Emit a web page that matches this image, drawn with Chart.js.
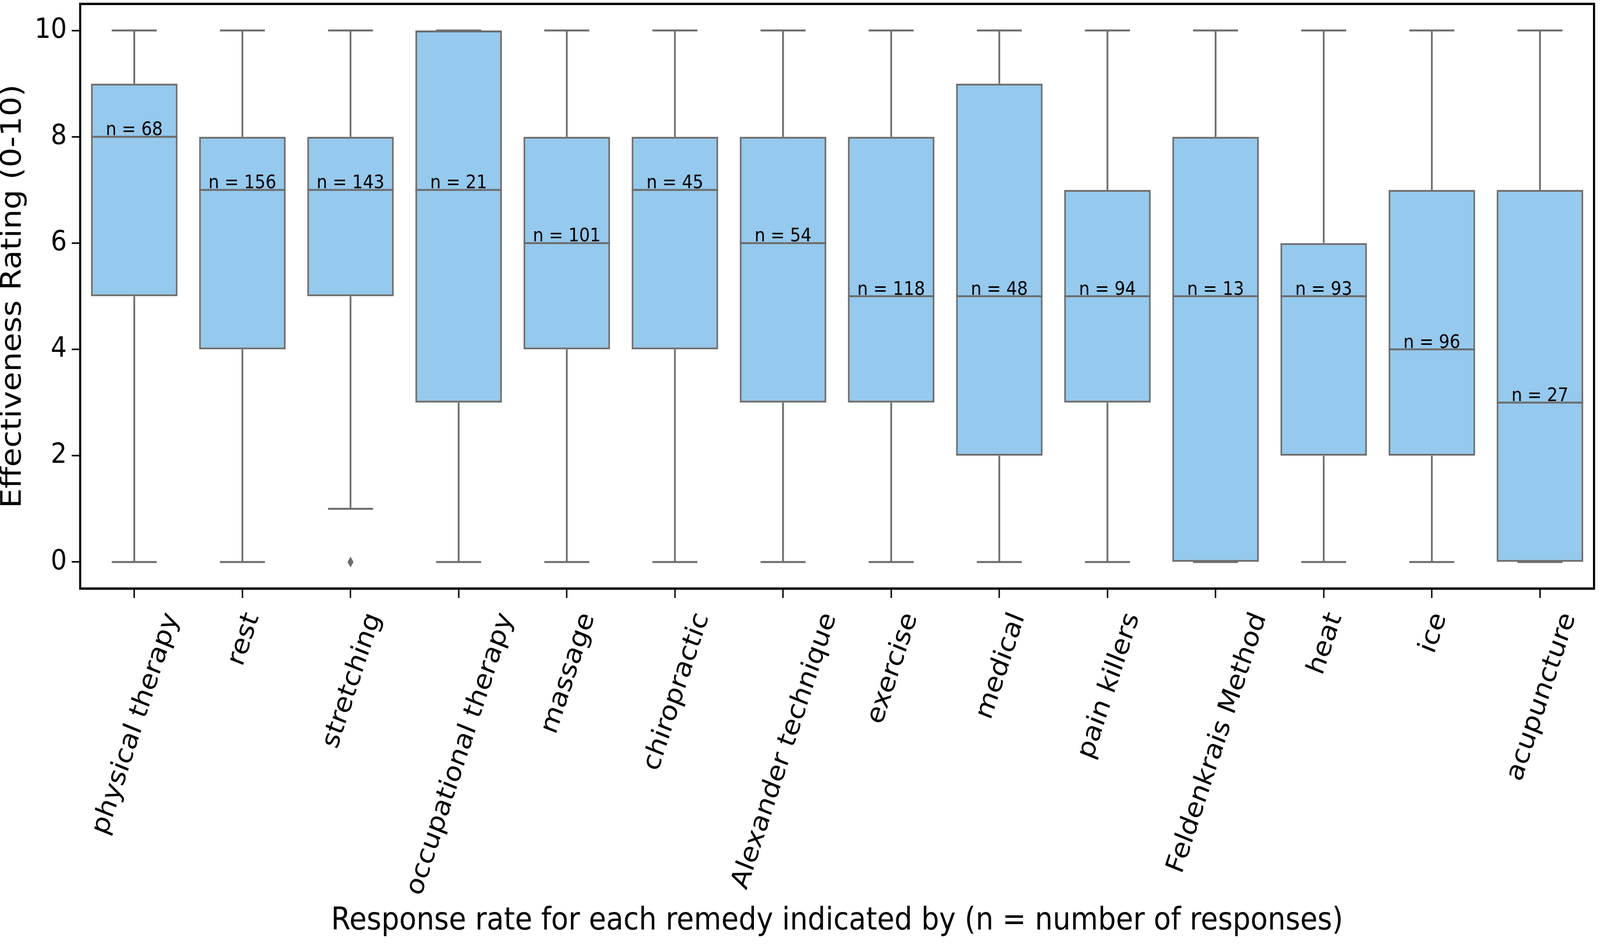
<!DOCTYPE html>
<html>
<head>
<meta charset="utf-8">
<script src="https://cdn.jsdelivr.net/npm/chart.js@4"></script>
<style>
  html, body { margin: 0; padding: 0; overflow: hidden; background: #fff; }
  #viewport { width: 100vw; height: 100vh; overflow: hidden; position: relative; }
  #wrap { width: 4550px; height: 2417px; position: absolute; left: 0; top: 0; transform-origin: 0 0; }
</style>
</head>
<body>
<div id="viewport"><div id="wrap"><canvas id="Chart"></canvas></div></div>
<script>
// remedies, in plotting order
const categories = [
  'physical therapy', 'rest', 'stretching', 'occupational therapy', 'massage',
  'chiropractic', 'Alexander technique', 'exercise', 'medical', 'pain killers',
  'Feldenkrais Method', 'heat', 'ice', 'acupuncture'
];

// box plot statistics
const whiskerLow  = [0, 0, 1, 0, 0, 0, 0, 0, 0, 0, 0, 0, 0, 0];
const q1          = [5, 4, 5, 3, 4, 4, 3, 3, 2, 3, 0, 2, 2, 0];
const medians     = [8, 7, 7, 7, 6, 7, 6, 5, 5, 5, 5, 5, 4, 3];
const q3          = [9, 8, 8, 10, 8, 8, 8, 8, 9, 7, 8, 6, 7, 7];
const whiskerHigh = [10, 10, 10, 10, 10, 10, 10, 10, 10, 10, 10, 10, 10, 10];
const outliers    = [[], [], [0], [], [], [], [], [], [], [], [], [], [], []];
const counts      = [68, 156, 143, 21, 101, 45, 54, 118, 48, 94, 13, 93, 96, 27];

const yTicks = [0, 2, 4, 6, 8, 10];

const boxFill = '#95c9ed';
const edge = '#6d6d6d';
const FONT = '"DejaVu Sans", sans-serif';

// the chart is laid out at 4550x2417 and scaled to the real viewport
// (the browser caps the window width, so this keeps the whole figure in view)
const wrap = document.getElementById('wrap');
const kx = window.innerWidth / 4550;
const ky = window.innerHeight / 2417;
wrap.style.transform = 'scale(' + kx + ',' + ky + ')';

// whiskers, medians, caps, fliers, n labels, rotated category labels, frame
const boxExtras = {
  id: 'boxExtras',
  beforeDatasetsDraw(chart) {
    const {ctx, scales: {x, y}} = chart;
    ctx.save();
    ctx.strokeStyle = edge;
    ctx.lineWidth = 5;
    categories.forEach((c, i) => {
      const cx = x.getPixelForValue(i);
      ctx.beginPath();
      ctx.moveTo(cx, y.getPixelForValue(q3[i]));
      ctx.lineTo(cx, y.getPixelForValue(whiskerHigh[i]));
      ctx.moveTo(cx, y.getPixelForValue(q1[i]));
      ctx.lineTo(cx, y.getPixelForValue(whiskerLow[i]));
      ctx.stroke();
    });
    ctx.restore();
  },
  afterDatasetsDraw(chart) {
    const {ctx, chartArea, scales: {x, y}} = chart;
    const bars = chart.getDatasetMeta(0).data;
    ctx.save();
    bars.forEach((bar, i) => {
      const {x: cx, width} = bar.getProps(['x', 'width'], true);
      const half = width / 2;
      const cap = width * 0.26;
      ctx.strokeStyle = edge;
      ctx.lineWidth = 5;
      ctx.beginPath();
      // median
      const my = y.getPixelForValue(medians[i]);
      ctx.moveTo(cx - half, my); ctx.lineTo(cx + half, my);
      // caps
      const hy = y.getPixelForValue(whiskerHigh[i]);
      const ly = y.getPixelForValue(whiskerLow[i]);
      ctx.moveTo(cx - cap, hy); ctx.lineTo(cx + cap, hy);
      ctx.moveTo(cx - cap, ly); ctx.lineTo(cx + cap, ly);
      ctx.stroke();
      // fliers
      ctx.fillStyle = edge;
      outliers[i].forEach(v => {
        const oy = y.getPixelForValue(v);
        ctx.beginPath();
        ctx.moveTo(cx, oy - 14);
        ctx.lineTo(cx + 8.5, oy);
        ctx.lineTo(cx, oy + 14);
        ctx.lineTo(cx - 8.5, oy);
        ctx.closePath();
        ctx.fill();
      });
      // n label
      ctx.fillStyle = '#000';
      ctx.font = '48px ' + FONT;
      ctx.textAlign = 'center';
      ctx.textBaseline = 'alphabetic';
      ctx.fillText('n = ' + counts[i], cx, my - 4);
    });

    // category labels, rotated 70 degrees, bounding box centred on the tick
    const fs = 72;
    const theta = 70 * Math.PI / 180;
    ctx.font = fs + 'px ' + FONT;
    ctx.fillStyle = '#000';
    ctx.textAlign = 'center';
    ctx.textBaseline = 'alphabetic';
    categories.forEach((c, i) => {
      const cx = x.getPixelForValue(i);
      const L = ctx.measureText(c).width;
      const h = 1.164 * fs;
      const H = L * Math.sin(theta) + h * Math.cos(theta);
      const cy = chartArea.bottom + 49 + H / 2;
      ctx.save();
      ctx.translate(cx, cy);
      ctx.rotate(-theta);
      ctx.fillText(c, 0, 0.346 * fs);
      ctx.restore();
    });

    // frame
    ctx.strokeStyle = '#000';
    ctx.lineWidth = 6;
    ctx.strokeRect(chartArea.left, chartArea.top,
      chartArea.right - chartArea.left, chartArea.bottom - chartArea.top);
    ctx.restore();
  }
};

const data = {
  labels: categories,
  datasets: [{
    label: 'Effectiveness',
    data: q1.map((v, i) => [v, q3[i]]),
    backgroundColor: boxFill,
    borderColor: edge,
    borderWidth: 5,
    borderSkipped: false,
    barPercentage: 0.8,
    categoryPercentage: 1.0
  }]
};

const config = {
  type: 'bar',
  data: data,
  plugins: [boxExtras],
  options: {
    responsive: true,
    maintainAspectRatio: false,
    devicePixelRatio: 1,
    animation: false,
    layout: { padding: { left: 0, right: 17, top: 10, bottom: 0 } },
    plugins: {
      legend: { display: false },
      tooltip: { enabled: false }
    },
    scales: {
      x: {
        offset: true,
        afterFit(scale) {
          scale.height = 910;
          scale.paddingLeft = 0;
          scale.paddingRight = 0;
        },
        grid: {
          offset: false,
          drawOnChartArea: false,
          drawTicks: true,
          tickLength: 24,
          tickWidth: 4,
          tickColor: '#000'
        },
        border: { display: false },
        ticks: { display: false },
        title: {
          display: true,
          text: 'Response rate for each remedy indicated by (n = number of responses)',
          color: '#000',
          font: { family: FONT, size: 80, lineHeight: 1.2 },
          padding: { top: 0, bottom: 10 }
        }
      },
      y: {
        min: -0.5,
        max: 10.5,
        afterFit(scale) {
          scale.width = 228;
          scale.paddingTop = 0;
          scale.paddingBottom = 0;
        },
        afterBuildTicks(scale) { scale.ticks = yTicks.map(v => ({ value: v })); },
        grid: {
          drawOnChartArea: false,
          drawTicks: true,
          tickLength: 24,
          tickWidth: 4,
          tickColor: '#000'
        },
        border: { display: false },
        ticks: {
          color: '#000',
          padding: 14,
          font: { family: FONT, size: 72 }
        },
        title: {
          display: true,
          text: 'Effectiveness Rating (0-10)',
          color: '#000',
          font: { family: FONT, size: 80, lineHeight: 0.9 },
          padding: { top: 2, bottom: 0 }
        }
      }
    }
  }
};

var myChart = new Chart(document.getElementById('Chart'), config);
</script>
</body>
</html>
